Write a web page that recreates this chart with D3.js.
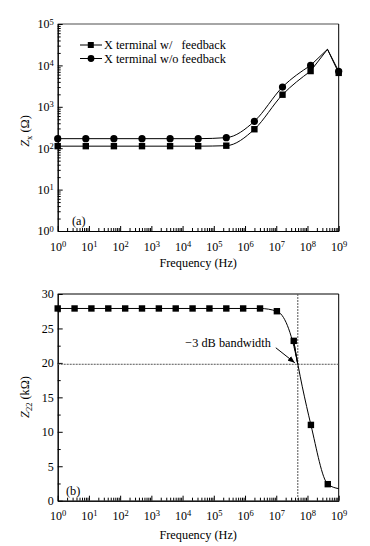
<!DOCTYPE html>
<html>
<head>
<meta charset="utf-8">
<script src="https://cdn.jsdelivr.net/npm/d3@7"></script>
<style>
  body { margin: 0; background: #fff; }
  svg, svg text { font-family: "Liberation Serif", "Times New Roman", serif; }
  .axis path, .axis line { stroke: #000; }
  .axis text { font-size: 12px; fill: #000; }
</style>
</head>
<body>
<svg id="chart" width="370" height="546"></svg>
<script>
// ---- data ----
// (a) Zx vs frequency, markers every 0.9 decade
var freqA = [1, 7.94, 63.1, 501, 3981, 31623, 251189, 1.995e6, 1.585e7, 1.259e8, 1e9];
var zxWith = [112, 112, 112, 112, 112, 112, 115, 287, 1960, 7300, 6600];
var zxWithout = [170, 170, 170, 170, 170, 170, 180, 447, 3000, 10000, 7200];
var peakFreq = 4.37e8;   // both curves meet here (no marker)
var peakZ = 24500;

// (b) Z22 vs frequency, markers every 0.54 decade
var freqB = [1, 3.47, 12.0, 41.7, 145, 501, 1738, 6026, 20893, 72444, 251189,
             870964, 3.02e6, 1.047e7, 3.63e7, 1.288e8, 4.467e8];
var z22 = [27.9, 27.9, 27.9, 27.9, 27.9, 27.9, 27.9, 27.9, 27.9, 27.9, 27.9,
           27.9, 27.9, 27.5, 23.2, 11.0, 2.4];
var z22EndFreq = 1e9, z22End = 1.75;
var bwFreq = 4.9e7, bwZ = 19.8;

var decadeTicks = [1e0, 1e1, 1e2, 1e3, 1e4, 1e5, 1e6, 1e7, 1e8, 1e9];
var yTicksA = [1e0, 1e1, 1e2, 1e3, 1e4, 1e5];
var yTicksB = [0, 5, 10, 15, 20, 25, 30];

var svg = d3.select("#chart");
var left = 57.7, right = 338.7;
var fs = "12.3px";

function minorLog(lo, hi) {
    var out = [];
    for (var e = lo; e < hi; e++)
        for (var k = 2; k <= 9; k++) out.push(k * Math.pow(10, e));
    return out;
}

function powLabel(sel) {
    sel.each(function (d) {
        var t = d3.select(this);
        var e = Math.round(Math.log10(d));
        t.text("10");
        t.append("tspan").attr("dy", "-0.45em").attr("font-size", "8.5px").text(e);
    });
}

function xAxisFor(g, x, bottom) {
    g.append("g").attr("class", "axis")
        .attr("transform", "translate(0," + bottom + ")")
        .call(d3.axisBottom(x).tickValues(minorLog(0, 9)).tickSize(-3).tickSizeOuter(0).tickFormat(""));
    var ax = g.append("g").attr("class", "axis")
        .attr("transform", "translate(0," + bottom + ")")
        .call(d3.axisBottom(x).tickValues(decadeTicks).tickSize(-5).tickSizeOuter(0).tickPadding(11));
    ax.selectAll(".tick text").call(powLabel);
}

function frame(top, bottom, topColor) {
    svg.append("line").attr("x1", left).attr("x2", right).attr("y1", top).attr("y2", top)
        .attr("stroke", topColor).attr("stroke-width", topColor === "#000" ? 1 : 1.6);
    svg.append("line").attr("x1", right).attr("x2", right).attr("y1", top).attr("y2", bottom)
        .attr("stroke", "#000");
}

// ================= (a) =================
var topA = 24, botA = 231;
var xA = d3.scaleLog().domain([1, 1e9]).range([left, right]);
var yA = d3.scaleLog().domain([1, 1e5]).range([botA, topA]);

frame(topA, botA, "#888");
xAxisFor(svg, xA, botA);

svg.append("g").attr("class", "axis")
    .attr("transform", "translate(" + left + ",0)")
    .call(d3.axisLeft(yA).tickValues(minorLog(0, 5)).tickSize(-3).tickSizeOuter(0).tickFormat(""));
svg.append("g").attr("class", "axis")
    .attr("transform", "translate(" + left + ",0)")
    .call(d3.axisLeft(yA).tickValues(yTicksA).tickSize(-5).tickSizeOuter(0).tickPadding(4))
    .selectAll(".tick text").call(powLabel);

function seriesA(vals) {
    return freqA.map(function (f, i) { return [f, vals[i]]; });
}
var sWith = seriesA(zxWith), sWithout = seriesA(zxWithout);

var lineA = d3.line().x(function (d) { return xA(d[0]); }).y(function (d) { return yA(d[1]); });

[sWith, sWithout].forEach(function (s) {
    var n = s.length;
    // smooth rise up to the last-but-one marker, then straight to the peak and down
    svg.append("path").attr("d", lineA.curve(d3.curveMonotoneX)(s.slice(0, n - 1)))
        .attr("fill", "none").attr("stroke", "#000").attr("stroke-width", 1);
    svg.append("path").attr("d", lineA.curve(d3.curveLinear)([s[n - 2], [peakFreq, peakZ], s[n - 1]]))
        .attr("fill", "none").attr("stroke", "#000").attr("stroke-width", 1);
});

svg.append("g").selectAll("rect").data(sWith).enter().append("rect")
    .attr("x", function (d) { return xA(d[0]) - 3.2; })
    .attr("y", function (d) { return yA(d[1]) - 3.2; })
    .attr("width", 6.4).attr("height", 6.4).attr("fill", "#000");
svg.append("g").selectAll("circle").data(sWithout).enter().append("circle")
    .attr("cx", function (d) { return xA(d[0]); })
    .attr("cy", function (d) { return yA(d[1]); })
    .attr("r", 3.6).attr("fill", "#000");

// legend
var leg = svg.append("g").attr("font-size", fs);
[["X terminal w/   feedback", "sq", 45], ["X terminal w/o feedback", "ci", 58.5]].forEach(function (l) {
    leg.append("line").attr("x1", 80).attr("x2", 102).attr("y1", l[2]).attr("y2", l[2]).attr("stroke", "#000");
    if (l[1] === "sq")
        leg.append("rect").attr("x", 87.8).attr("y", l[2] - 3).attr("width", 6).attr("height", 6);
    else
        leg.append("circle").attr("cx", 91).attr("cy", l[2]).attr("r", 3.4);
    leg.append("text").attr("x", 104).attr("y", l[2] + 4.2).style("white-space", "pre").text(l[0]);
});

svg.append("text").attr("x", 72).attr("y", 225).attr("font-size", fs).text("(a)");

svg.append("text").attr("x", (left + right) / 2).attr("y", 267).attr("text-anchor", "middle")
    .attr("font-size", fs).text("Frequency (Hz)");

var ylA = svg.append("text").attr("transform", "translate(29,131) rotate(-90)")
    .attr("text-anchor", "middle").attr("font-size", fs);
ylA.append("tspan").attr("font-style", "italic").text("Z");
ylA.append("tspan").attr("font-size", "8.5px").attr("dy", "3").text("x");
ylA.append("tspan").attr("dy", "-3").text(" (\u03A9)");

// ================= (b) =================
var topB = 294, botB = 500.7;
var xB = d3.scaleLog().domain([1, 1e9]).range([left, right]);
var yB = d3.scaleLinear().domain([0, 30]).range([botB, topB]);

frame(topB, botB, "#000");
xAxisFor(svg, xB, botB);

svg.append("g").attr("class", "axis")
    .attr("transform", "translate(" + left + ",0)")
    .call(d3.axisLeft(yB).tickValues(d3.range(2.5, 30, 5)).tickSize(-3).tickSizeOuter(0).tickFormat(""));
svg.append("g").attr("class", "axis")
    .attr("transform", "translate(" + left + ",0)")
    .call(d3.axisLeft(yB).tickValues(yTicksB).tickSize(-5).tickSizeOuter(0).tickPadding(4));

// -3 dB guides
svg.append("line").attr("x1", left).attr("x2", right).attr("y1", yB(bwZ)).attr("y2", yB(bwZ))
    .attr("stroke", "#555").attr("stroke-dasharray", "2,1");
svg.append("line").attr("x1", xB(bwFreq)).attr("x2", xB(bwFreq)).attr("y1", topB).attr("y2", botB)
    .attr("stroke", "#555").attr("stroke-dasharray", "2,1");

var ptsB = freqB.map(function (f, i) { return [f, z22[i]]; });
var lineB = d3.line().x(function (d) { return xB(d[0]); }).y(function (d) { return yB(d[1]); })
    .curve(d3.curveMonotoneX);
svg.append("path")
    .attr("d", lineB(ptsB.slice(0, 14).concat([[bwFreq, bwZ]], ptsB.slice(14), [[z22EndFreq, z22End]])))
    .attr("fill", "none").attr("stroke", "#000").attr("stroke-width", 1);
svg.append("g").selectAll("rect").data(ptsB).enter().append("rect")
    .attr("x", function (d) { return xB(d[0]) - 3.2; })
    .attr("y", function (d) { return yB(d[1]) - 3.2; })
    .attr("width", 6.4).attr("height", 6.4).attr("fill", "#000");

// annotation
svg.append("defs").append("marker").attr("id", "arr")
    .attr("viewBox", "0 0 10 10").attr("refX", 10).attr("refY", 5)
    .attr("markerWidth", 7).attr("markerHeight", 7).attr("orient", "auto")
    .append("path").attr("d", "M0,1 L10,5 L0,9 Z").attr("fill", "#000");
var ax0 = xB(bwFreq), ay0 = yB(bwZ);
svg.append("line").attr("x1", ax0 - 22).attr("y1", ay0 - 16.5).attr("x2", ax0 - 3).attr("y2", ay0 - 1.5)
    .attr("stroke", "#000").attr("marker-end", "url(#arr)");
svg.append("text").attr("x", ax0 - 27).attr("y", ay0 - 17.5).attr("text-anchor", "end")
    .attr("font-size", fs).text("\u22123 dB bandwidth");

svg.append("text").attr("x", 66).attr("y", 495).attr("font-size", fs).text("(b)");

svg.append("text").attr("x", (left + right) / 2).attr("y", 539).attr("text-anchor", "middle")
    .attr("font-size", fs).text("Frequency (Hz)");

var ylB = svg.append("text").attr("transform", "translate(29,397) rotate(-90)")
    .attr("text-anchor", "middle").attr("font-size", fs);
ylB.append("tspan").attr("font-style", "italic").text("Z");
ylB.append("tspan").attr("font-size", "8.5px").attr("dy", "3").text("22");
ylB.append("tspan").attr("dy", "-3").text(" (k\u03A9)");
</script>
</body>
</html>
